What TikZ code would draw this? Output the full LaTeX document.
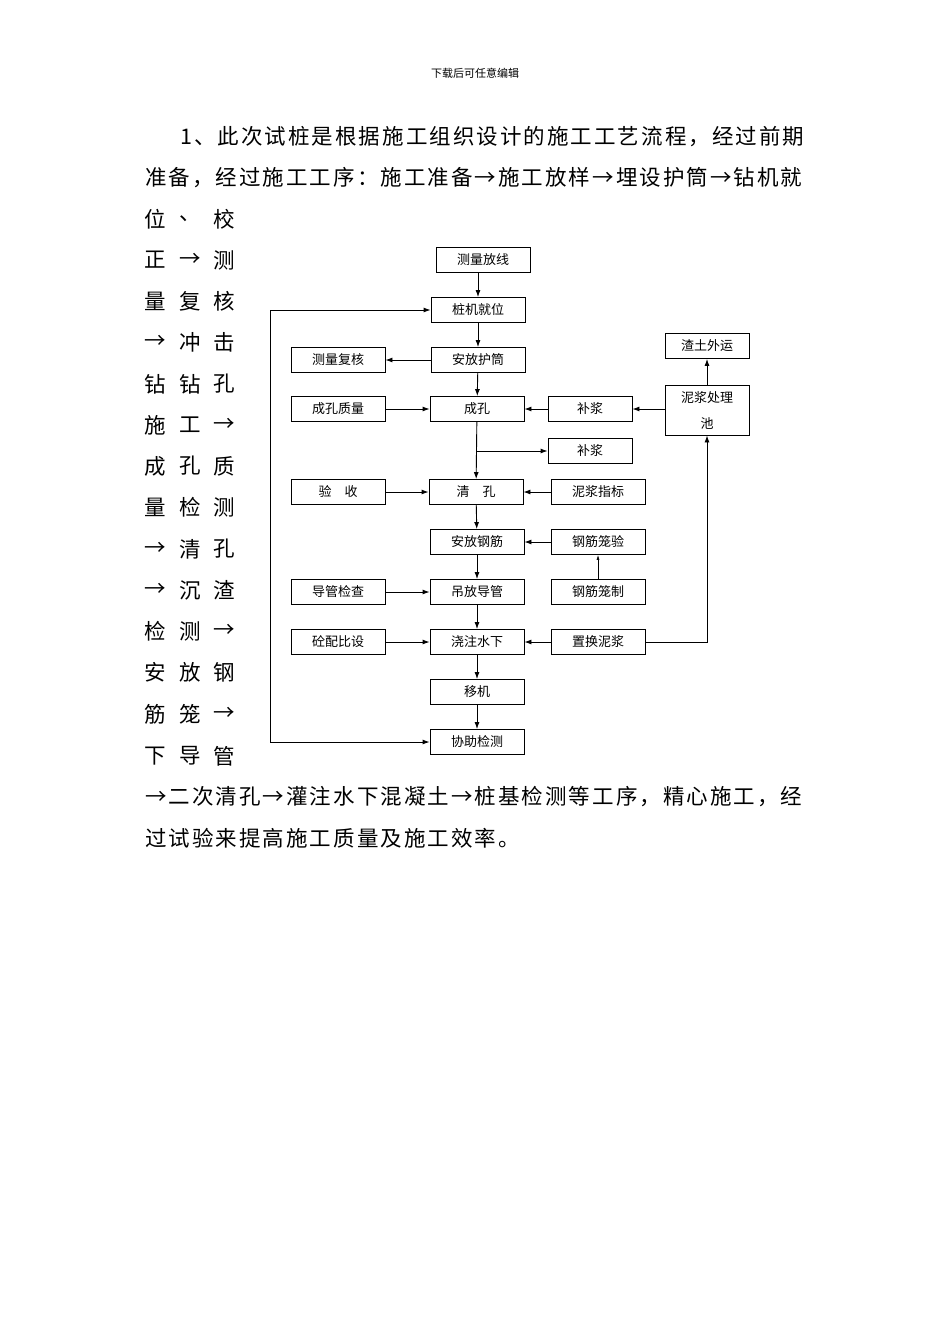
\documentclass[tikz,border=0pt]{standalone}
\usepackage{fontspec}
\setmainfont{Noto Sans CJK SC}
\usetikzlibrary{arrows.meta}
\begin{document}
\begin{tikzpicture}[x=1pt,y=-1pt,
  bx/.style={draw,line width=0.9pt,minimum width=94pt,minimum height=25pt,inner sep=0pt,font=\fontsize{13}{13}\selectfont},
  ln/.style={line width=0.9pt,-{Latex[length=7pt,width=5pt]}},
  tx/.style={anchor=west,inner sep=0pt,font=\fontsize{21.5}{21.5}\selectfont\addfontfeature{LetterSpace=9.5}},
  ch/.style={inner sep=0pt,font=\fontsize{21.5}{21.5}\selectfont}]
\useasboundingbox (0,0) rectangle (950,1344);
\fill[white] (0,0) rectangle (950,1344);
\node[inner sep=0pt,font=\fontsize{11}{11}\selectfont] (hdr) at (475,73) {下载后可任意编辑};
\node[tx] (l1) at (180,137) {1、此次试桩是根据施工组织设计的施工工艺流程，经过前期};
\node[tx] (l2) at (145,178) {准备，经过施工工序：施工准备→施工放样→埋设护筒→钻机就};
\foreach \y/\a/\b/\c in {219/位/、/校,260/正/→/测,301/量/复/核,342/→/冲/击,384/钻/钻/孔,425/施/工/→,466/成/孔/质,507/量/检/测,549/→/清/孔,590/→/沉/渣,631/检/测/→,672/安/放/钢,714/筋/笼/→,756/下/导/管}{
  \node[ch] at (155,\y) {\a}; \node[ch] at (190,\y) {\b}; \node[ch] at (224,\y) {\c};}
\node[tx] (l3) at (145,797) {→二次清孔→灌注水下混凝土→桩基检测等工序，精心施工，经};
\node[tx] (l4) at (145,838) {过试验来提高施工质量及施工效率。};
% flowchart
\node[bx] (a) at (483,260) {测量放线};
\node[bx] (b) at (478,310) {桩机就位};
\node[bx] (c) at (478,360) {安放护筒};
\node[bx] (c1) at (338,360) {测量复核};
\node[bx] (d) at (477,409) {成孔};
\node[bx] (d1) at (338,409) {成孔质量};
\node[bx,minimum width=84pt] (d2) at (590,409) {补浆};
\node[bx,minimum width=84pt,minimum height=50pt] (p) at (707,410) {};
\node[font=\fontsize{13}{13}\selectfont] (pt1) at (707,398) {泥浆处理};
\node[font=\fontsize{13}{13}\selectfont] (pt2) at (707,423) {池};
\node[bx,minimum width=84pt] (z) at (707,346) {渣土外运};
\node[bx,minimum width=84pt] (e2) at (590,451) {补浆};
\node[bx] (e) at (476,492) {清\quad 孔};
\node[bx] (e1) at (338,492) {验\quad 收};
\node[bx] (e3) at (598,492) {泥浆指标};
\node[bx] (f) at (477,542) {安放钢筋};
\node[bx] (f3) at (598,542) {钢筋笼验};
\node[bx] (g) at (477,592) {吊放导管};
\node[bx] (g1) at (338,592) {导管检查};
\node[bx] (g3) at (598,592) {钢筋笼制};
\node[bx] (h) at (477,642) {浇注水下};
\node[bx] (h1) at (338,642) {砼配比设};
\node[bx] (h3) at (598,642) {置换泥浆};
\node[bx] (i) at (477,692) {移机};
\node[bx] (j) at (477,742) {协助检测};
\draw[ln] (a.south-|b) -- (b);
\draw[ln] (b) -- (c);
\draw[ln] (c) -- (d);
\draw[ln] (c) -- (c1);
\draw[ln] (d1) -- (d);
\draw[ln] (d2) -- (d);
\draw[ln] (p.west|-d2) -- (d2);
\draw[ln] (p) -- (z);
\draw[ln] (d) -- (e);
\coordinate (br) at (477,451);
\draw[ln] (br) -- (e2);
\draw[ln] (e1) -- (e);
\draw[ln] (e3) -- (e);
\draw[ln] (e) -- (f);
\draw[ln] (f3) -- (f);
\draw[ln,-{Latex[length=5pt,width=3pt]},line width=0.6pt] (g3) -- (f3);
\draw[ln] (f) -- (g);
\draw[ln] (g1) -- (g);
\draw[ln] (g) -- (h);
\draw[ln] (h1) -- (h);
\draw[ln] (h3) -- (h);
\draw[ln] (h3) -| (p);
\draw[ln] (h) -- (i);
\draw[ln] (i) -- (j);
\coordinate (lt) at (270,310);
\coordinate (lb) at (270,742);
\draw[ln] (lb) -- (lt) -- (b);
\draw[ln] (lb) -- (j);
\end{tikzpicture}
\end{document}
